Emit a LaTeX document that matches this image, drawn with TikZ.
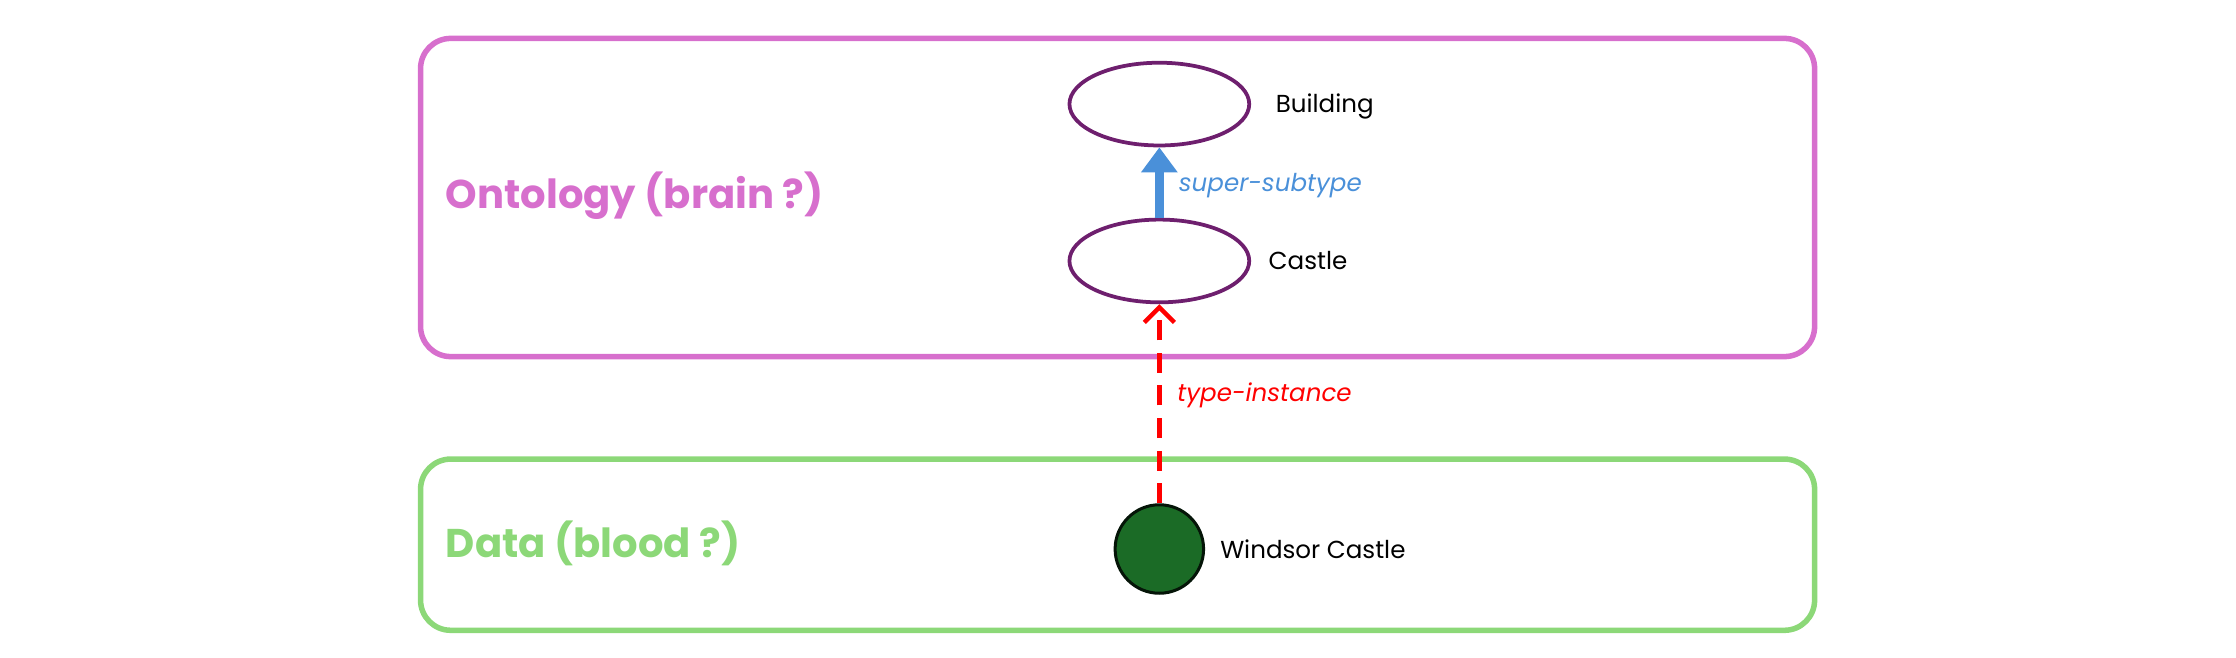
\documentclass[tikz,border=0pt]{standalone}
\usepackage{fontspec}
\setmainfont{Poppins}
\usetikzlibrary{arrows.meta,shapes.geometric}
\definecolor{pinkc}{HTML}{D76FCD}
\definecolor{greenc}{HTML}{8CD878}
\definecolor{purp}{HTML}{6E1F6E}
\definecolor{bluec}{HTML}{4A90D9}
\definecolor{dgreen}{HTML}{1B6B26}
\tikzset{
  box/.style={draw, line width=1.1pt, rounded corners=6pt},
  cls/.style={ellipse, draw=purp, line width=0.75pt, minimum width=1.26cm, minimum height=0.58cm},
  lbl/.style={font=\fontsize{4.9}{6}\selectfont, anchor=west, inner sep=0pt},
  title/.style={font=\fontsize{8}{10}\selectfont\bfseries, anchor=west, inner sep=0pt},
}
\begin{document}
\begin{tikzpicture}[x=0.01cm,y=-0.01cm]
\useasboundingbox (0,0) rectangle (1568,461);
\node[box, draw=pinkc, minimum width=9.77cm, minimum height=2.23cm, anchor=north west] (onto) at (293,25) {};
\node[box, draw=greenc, minimum width=9.77cm, minimum height=1.2cm, anchor=north west] (data) at (293,320) {};
\node[title, text=pinkc] (ot) at (312,137) {Ontology (brain ?)};
\node[title, text=greenc] (dt) at (312,381) {Data (blood ?)};
\node[cls] (building) at (813,73) {};
\node[cls] (castle) at (813,183) {};
\node[circle, draw=black!80!dgreen, fill=dgreen, line width=0.6pt, minimum size=0.62cm, inner sep=0] (windsor) at (813,385) {};
\node[lbl] (bl) at (894,75) {Building};
\node[lbl] (cl) at (889,183) {Castle};
\node[lbl] (wl) at (855,385) {Windsor Castle};
\draw[bluec, line width=1.7pt, -{Triangle[length=5pt,width=7pt]}] (castle) -- (building);
\node[lbl, text=bluec, font=\fontsize{4.9}{6}\selectfont\itshape] (sl) at (826,130) {super-subtype};
\draw[red, line width=0.9pt, dash pattern=on 4pt off 2.5pt, -{Straight Barb[length=3pt,width=6pt]}] (windsor) -- (castle);
\node[lbl, text=red, font=\fontsize{4.9}{6}\selectfont\itshape] (tl) at (825,277) {type-instance};
\end{tikzpicture}
\end{document}
